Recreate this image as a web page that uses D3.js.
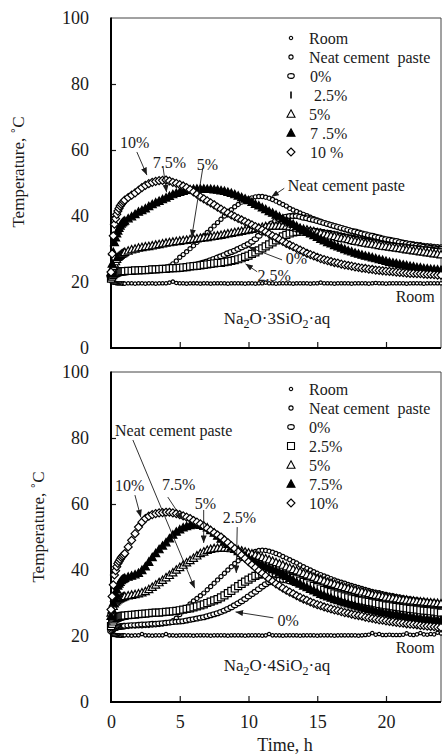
<!DOCTYPE html>
<html><head><meta charset="utf-8">
<script src="https://cdn.jsdelivr.net/npm/d3@7"></script>
<style>
body{margin:0;background:#fff}
text{font-family:"Liberation Serif","Times New Roman",Times,serif;fill:#1a1a1a}
</style></head>
<body><svg id="chart" width="442" height="756"></svg>
<script>
// ---------- DATA ----------
// sampling times, h (5-min logging in the first hour, 15-min afterwards)
const hours = [0,0.083,0.167,0.25,0.333,0.417,0.5,0.583,0.667,0.75,0.833,0.917,1,1.25,1.5,1.75,2,2.25,2.5,2.75,3,3.25,3.5,3.75,4,4.25,4.5,4.75,5,5.25,5.5,5.75,6,6.25,6.5,6.75,7,7.25,7.5,7.75,8,8.25,8.5,8.75,9,9.25,9.5,9.75,10,10.25,10.5,10.75,11,11.25,11.5,11.75,12,12.25,12.5,12.75,13,13.25,13.5,13.75,14,14.25,14.5,14.75,15,15.25,15.5,15.75,16,16.25,16.5,16.75,17,17.25,17.5,17.75,18,18.25,18.5,18.75,19,19.25,19.5,19.75,20,20.25,20.5,20.75,21,21.25,21.5,21.75,22,22.25,22.5,22.75,23,23.25,23.5,23.75,24];

const seriesNames = ["Room","Neat cement  paste","0%","2.5%","5%","7.5%","10%"];
const xTicks = [0,5,10,15,20];
const yTicks = [0,20,40,60,80,100];

// Panel 1: Na2O·3SiO2·aq
const room3 = [20.2,20.0,19.8,19.8,19.7,19.6,19.6,19.6,19.6,19.6,19.5,19.6, 19.5,19.6,19.6,19.5, 19.6,19.6,19.5,19.6, 19.6,19.5,19.6,19.6, 19.6,19.8,20.1,19.7, 19.6,19.6,19.5,19.6, 19.6,19.6,19.5,19.6, 19.6,19.5,19.6,19.6, 19.6,19.6,19.5,19.6, 19.6,19.6,19.6,19.5, 19.6,19.6,19.5,19.6, 19.6,19.8,19.6,19.6, 19.5,19.6,19.6,19.6, 19.6,19.5,19.6,19.6, 19.6,19.6,19.5,19.6, 19.6,19.8,19.6,19.6, 19.6,19.5,19.6,19.6, 19.6,19.6,19.5,19.6, 19.6,19.6,19.6,19.5, 19.6,19.7,19.6,19.6, 19.5,19.6,19.6,19.6, 19.6,19.6,19.5,19.6, 19.6,19.6,19.6,19.5, 19.6,19.6,19.6,19.6, 19.6];
const neat3 = [21.5,21.9,22.2,22.5,22.7,22.9,23.0,23.1,23.1,23.2,23.2,23.3, 23.3,23.4,23.4,23.5, 23.5,23.5,23.6,23.6, 23.7,23.8,23.9,24.1, 24.4,24.8,25.5,26.4, 27.5,28.3,29.2,30.1, 31.0,32.0,33.0,34.0, 35.0,36.0,37.0,38.0, 39.0,40.0,41.0,41.9, 42.8,43.5,44.2,44.7, 45.2,45.5,45.8,45.9, 45.9,45.7,45.4,45.0, 44.5,44.0,43.5,43.0, 42.3,41.8,41.4,40.9, 40.5,40.1,39.6,39.2, 38.8,38.4,38.0,37.5, 37.1,36.8,36.5,36.1, 35.8,35.5,35.2,34.9, 34.6,34.3,34.1,33.8, 33.6,33.4,33.2,33.0, 32.8,32.6,32.4,32.3, 32.1,32.0,31.8,31.7, 31.5,31.4,31.3,31.1, 31.0,30.9,30.8,30.7, 30.6];
const p0_3 = [21.0,21.4,21.7,22.0,22.2,22.4,22.5,22.6,22.7,22.8,22.9,23.0, 23.0,23.1,23.1,23.2, 23.3,23.3,23.4,23.4, 23.5,23.6,23.6,23.7, 23.8,23.9,24.0,24.1, 24.3,24.4,24.6,24.8, 25.0,25.3,25.6,25.9, 26.2,26.6,27.0,27.4, 27.8,28.2,28.7,29.1, 29.5,30.0,30.5,31.0, 31.5,32.2,33.0,34.0, 35.0,36.0,37.0,37.8, 38.5,39.0,39.5,39.8, 40.0,40.0,40.0,39.8, 39.5,39.3,39.0,38.8, 38.5,38.2,37.9,37.6, 37.3,37.0,36.7,36.4, 36.1,35.8,35.5,35.3, 35.0,34.7,34.5,34.2, 34.0,33.7,33.5,33.2, 33.0,32.8,32.6,32.4, 32.1,31.9,31.7,31.5, 31.3,31.1,30.9,30.7, 30.5,30.4,30.2,30.1, 30.0];
const p25_3 = [21.0,21.6,22.1,22.5,22.7,22.9,23.0,23.1,23.1,23.2,23.2,23.3, 23.3,23.4,23.4,23.5, 23.5,23.6,23.6,23.7, 23.8,23.8,23.9,24.0, 24.0,24.1,24.2,24.2, 24.3,24.4,24.5,24.7, 24.8,24.9,25.0,25.2, 25.3,25.5,25.6,25.8, 25.8,26.0,26.2,26.4, 26.6,26.9,27.2,27.6, 28.0,28.5,29.0,29.6, 30.2,30.8,31.4,32.0, 32.6,33.2,33.8,34.3, 34.7,35.0,35.2,35.3, 35.3,35.3,35.2,35.1, 35.0,34.8,34.6,34.5, 34.3,34.1,33.8,33.6, 33.4,33.2,33.0,32.7, 32.5,32.3,32.1,31.9, 31.8,31.6,31.4,31.2, 31.0,30.9,30.7,30.6, 30.5,30.4,30.2,30.1, 30.0,29.9,29.7,29.6, 29.5,29.4,29.2,29.1, 29.0];
const p5_3 = [23.0,23.9,24.8,25.5,26.2,26.9,27.5,27.8,28.1,28.4,28.6,28.8, 29.0,29.4,29.8,30.0, 30.3,30.5,30.7,30.8, 31.0,31.2,31.4,31.6, 31.8,32.0,32.1,32.3, 32.4,32.6,32.7,32.9, 33.0,33.1,33.3,33.4, 33.5,33.7,33.9,34.0, 34.2,34.4,34.6,34.8, 35.0,35.2,35.4,35.6, 35.8,36.0,36.2,36.4, 36.6,36.8,36.9,37.0, 37.0,37.0,37.0,36.9, 36.8,36.6,36.4,36.2, 36.0,35.8,35.5,35.3, 35.0,34.8,34.5,34.3, 34.0,33.8,33.5,33.3, 33.1,32.9,32.6,32.4, 32.2,32.0,31.8,31.6, 31.5,31.3,31.1,30.9, 30.8,30.6,30.5,30.3, 30.2,30.0,29.8,29.7, 29.5,29.4,29.2,29.1, 28.9,28.8,28.6,28.5, 28.3];
const p75_3 = [22.6,25.5,29.0,32.0,33.4,34.6,35.5,36.3,37.0,37.6,38.0,38.3, 38.5,39.2,39.8,40.5, 41.2,41.7,42.2,42.9, 43.5,44.0,44.5,45.0, 45.5,46.0,46.5,46.9, 47.2,47.5,47.8,48.0, 48.1,48.2,48.2,48.2, 48.1,48.1,48.0,47.9, 47.7,47.5,47.2,46.9, 46.5,46.1,45.6,45.2, 44.7,44.2,43.6,43.1, 42.5,42.0,41.4,40.9, 40.3,39.8,39.2,38.6, 38.0,37.5,36.9,36.2, 35.6,35.1,34.6,34.1, 33.6,33.0,32.5,32.0, 31.6,31.1,30.7,30.3, 29.9,29.5,29.2,28.8, 28.5,28.2,27.9,27.7, 27.4,27.1,26.8,26.6, 26.3,26.0,25.8,25.6, 25.4,25.2,25.0,24.8, 24.6,24.4,24.3,24.1, 24.0,23.9,23.8,23.7, 23.6];
const p10_3 = [23.0,28.5,34.0,37.5,39.2,40.5,41.5,42.3,43.0,43.5,44.0,44.4, 44.8,45.6,46.3,47.0, 47.8,48.6,49.3,49.8, 50.2,50.5,50.7,50.8, 50.9,50.6,50.2,49.9, 49.5,49.1,48.6,48.0, 47.3,46.6,45.8,45.2, 44.6,44.0,43.4,42.7, 42.1,41.5,40.9,40.3, 39.8,39.3,38.8,38.3, 37.8,37.3,36.8,36.3, 35.8,35.2,34.6,34.0, 33.5,32.9,32.3,31.7, 31.2,30.7,30.2,29.7, 29.2,28.7,28.3,27.9, 27.5,27.1,26.8,26.5, 26.2,25.9,25.7,25.4, 25.2,25.0,24.8,24.6, 24.4,24.2,24.1,23.9, 23.8,23.6,23.5,23.4, 23.3,23.2,23.1,23.0, 22.9,22.8,22.7,22.6, 22.6,22.5,22.5,22.4, 22.3,22.3,22.2,22.1, 22.1];

// Panel 2: Na2O·4SiO2·aq
const room4 = [21.0,20.7,20.5,20.4,20.3,20.2,20.2,20.2,20.1,20.1,20.2,20.2, 20.2,20.2,20.1,20.2, 20.2,20.6,20.2,20.2, 20.1,20.2,20.2,20.2, 20.6,20.2,20.2,20.1, 20.2,20.2,20.2,20.2, 20.1,20.2,20.2,20.2, 20.2,20.1,20.2,20.2, 20.2,20.2,20.1,20.2, 20.2,20.2,20.2,20.1, 20.2,20.2,20.2,20.2, 20.1,20.2,20.6,20.2, 20.2,20.2,20.1,20.2, 20.2,20.2,20.2,20.1, 20.2,20.2,20.2,20.2, 20.1,20.2,20.2,20.2, 20.2,20.1,20.2,20.2, 20.2,20.2,20.2,20.2, 20.1,20.2,20.3,20.4, 20.9,20.4,20.6,20.3, 20.3,20.4,20.3,20.3, 20.3,20.4,20.8,20.4, 20.3,20.5,20.9,20.5, 20.4,20.6,20.5,21.0, 20.8];
const neat4 = [22.0,22.1,22.2,22.3,22.4,22.5,22.5,22.6,22.6,22.7,22.7,22.8, 22.8,22.9,23.0,23.0, 23.1,23.1,23.2,23.2, 23.3,23.4,23.5,23.6, 23.8,24.1,24.6,25.4, 26.5,27.6,28.7,29.7, 30.6,31.4,32.2,33.0, 34.0,35.0,36.0,37.0, 38.0,39.0,40.0,41.0, 42.0,42.8,43.5,44.1, 44.7,45.2,45.6,45.9, 46.0,45.9,45.7,45.4, 45.0,44.6,44.1,43.6, 43.1,42.6,42.1,41.5, 41.0,40.5,40.0,39.5, 39.0,38.6,38.2,37.8, 37.4,37.0,36.6,36.3, 36.0,35.6,35.3,35.0, 34.7,34.4,34.1,33.8, 33.5,33.3,33.1,32.8, 32.6,32.4,32.2,32.0, 31.8,31.6,31.4,31.3, 31.1,31.0,30.8,30.7, 30.5,30.4,30.3,30.1, 30.0];
const p0_4 = [21.5,21.8,22.1,22.3,22.5,22.6,22.7,22.8,22.9,23.0,23.0,23.1, 23.1,23.2,23.3,23.3, 23.4,23.5,23.5,23.6, 23.7,23.7,23.8,23.9, 24.0,24.1,24.2,24.3, 24.4,24.5,24.7,24.9, 25.1,25.3,25.5,25.7, 26.0,26.3,26.6,26.9, 27.3,27.7,28.2,28.7, 29.3,29.9,30.5,31.2, 32.0,32.7,33.4,34.2, 35.0,35.7,36.3,36.7, 37.0,37.1,37.0,36.8, 36.5,36.2,35.8,35.5, 35.1,34.8,34.5,34.1, 33.8,33.5,33.2,32.9, 32.6,32.4,32.1,31.9, 31.7,31.4,31.2,31.0, 30.8,30.6,30.4,30.2, 30.0,29.9,29.7,29.6, 29.4,29.3,29.2,29.0, 28.9,28.8,28.7,28.6, 28.5,28.4,28.4,28.3, 28.2,28.1,28.1,28.0, 27.9];
const p25_4 = [23.0,23.7,24.4,25.0,25.3,25.5,25.6,25.8,25.9,26.0,26.1,26.1, 26.2,26.3,26.4,26.5, 26.6,26.7,26.8,26.9, 27.0,27.1,27.1,27.2, 27.3,27.4,27.5,27.6, 27.8,28.0,28.2,28.4, 28.7,29.0,29.3,29.6, 30.0,30.4,30.8,31.2, 31.7,32.3,33.0,33.7, 34.4,35.1,35.8,36.5, 37.1,37.7,38.2,38.6, 38.8,39.0,39.1,39.1, 39.0,38.8,38.6,38.3, 38.0,37.6,37.2,36.8, 36.4,36.0,35.6,35.2, 34.8,34.4,34.0,33.6, 33.3,32.9,32.6,32.3, 32.0,31.7,31.4,31.2, 30.9,30.7,30.5,30.3, 30.1,29.9,29.7,29.5, 29.3,29.2,29.0,28.8, 28.7,28.5,28.4,28.2, 28.1,28.0,27.8,27.7, 27.6,27.5,27.4,27.2, 27.1];
const p5_4 = [27.0,28.0,29.0,29.8,30.3,30.7,31.0,31.2,31.4,31.6,31.7,31.9, 32.0,32.2,32.4,32.6, 32.8,33.1,33.5,34.1, 34.8,35.5,36.2,36.9, 37.7,38.4,39.2,40.0, 40.8,41.5,42.2,42.9, 43.6,44.3,45.0,45.5, 46.0,46.3,46.5,46.6, 46.7,46.7,46.6,46.5, 46.3,46.1,45.8,45.5, 45.2,44.9,44.5,44.2, 43.8,43.4,43.1,42.7, 42.3,41.9,41.5,41.0, 40.6,40.2,39.8,39.4, 39.0,38.6,38.2,37.8, 37.4,37.1,36.7,36.3, 36.0,35.7,35.3,35.0, 34.7,34.4,34.2,33.9, 33.6,33.4,33.1,32.9, 32.6,32.4,32.2,32.0, 31.8,31.6,31.5,31.3, 31.1,31.0,30.9,30.7, 30.6,30.5,30.4,30.3, 30.2,30.1,30.0,29.9, 29.8];
const p75_4 = [26.0,28.0,30.0,31.5,32.8,34.0,35.2,35.8,36.3,36.8,37.1,37.3, 37.5,37.9,38.2,38.6, 39.0,39.9,41.0,42.4, 43.8,45.0,46.2,47.3, 48.3,49.5,50.6,51.5, 52.2,52.8,53.2,53.5, 53.7,53.7,53.6,53.3, 52.8,52.0,51.2,50.3, 49.4,48.6,47.8,47.0, 46.3,45.6,45.0,44.3, 43.6,43.1,42.5,42.0, 41.5,41.1,40.6,40.2, 39.8,39.2,38.7,38.1, 37.5,36.9,36.3,35.8, 35.2,34.7,34.2,33.7, 33.2,32.7,32.3,31.9, 31.5,31.1,30.8,30.4, 30.1,29.8,29.5,29.2, 28.9,28.6,28.4,28.1, 27.9,27.6,27.4,27.2, 27.0,26.8,26.6,26.5, 26.3,26.1,25.9,25.8, 25.6,25.5,25.3,25.2, 25.1,25.0,24.9,24.8, 24.7];
const p10_4 = [28.0,32.0,35.5,38.5,39.8,41.0,42.0,42.6,43.2,43.8,44.2,44.6, 45.0,47.0,49.0,51.0, 53.0,54.5,55.6,56.3, 56.8,57.1,57.3,57.4, 57.5,57.5,57.3,57.1, 56.8,56.4,56.0,55.6, 55.0,54.5,54.0,53.3, 52.6,52.0,51.3,50.6, 50.0,49.1,48.3,47.4, 46.5,45.5,44.5,43.5, 42.5,41.6,40.7,39.8, 39.0,38.2,37.3,36.6, 35.8,35.2,34.5,33.9, 33.3,32.8,32.2,31.7, 31.2,30.8,30.3,29.9, 29.5,29.2,28.8,28.5, 28.2,27.9,27.7,27.4, 27.1,26.9,26.6,26.4, 26.2,26.0,25.7,25.5, 25.3,25.1,24.9,24.8, 24.6,24.4,24.3,24.1, 24.0,23.9,23.7,23.6, 23.5,23.4,23.2,23.1, 23.0,22.9,22.8,22.7, 22.6];

// ---------- DRAWING ----------
const svg = d3.select("#chart");
const X0 = 111, X1 = 441;
const x = d3.scaleLinear().domain([0, 24]).range([X0, X1]);

const defs = svg.append("defs");
defs.append("marker").attr("id","ah").attr("viewBox","0 0 10 8").attr("refX",10).attr("refY",4)
  .attr("markerUnits","userSpaceOnUse").attr("markerWidth",8).attr("markerHeight",6).attr("orient","auto")
  .append("path").attr("d","M0,0L10,4L0,8z").attr("fill","#1a1a1a");

const shapes = {
  room:  () => "M-1.7,0a1.7,1.7 0 1,0 3.4,0a1.7,1.7 0 1,0 -3.4,0",
  neat:  () => "M-2.1,0a2.1,2.1 0 1,0 4.2,0a2.1,2.1 0 1,0 -4.2,0",
  circ:  () => "M-3.2,-0.5C-3.2,-3 3.2,-3 3.2,-0.5V0.5C3.2,3 -3.2,3 -3.2,0.5Z",
  square:() => "M-3.5,-3.5H3.5V3.5H-3.5Z",
  bar:   () => "M0,-3.5V3.5",
  tri:   () => "M0,-4.2L4,3.2H-4Z",
  diam:  () => "M0,-4L4,0L0,4L-4,0Z"
};

function drawPanel(cfg) {
  const y = d3.scaleLinear().domain([0, 100]).range([cfg.top + 330, cfg.top]);
  const g = svg.append("g");

  g.append("line").attr("x1",X0).attr("x2",X1).attr("y1",y(100)).attr("y2",y(100)).attr("stroke","#444").attr("stroke-width",1);
  g.append("line").attr("x1",X1).attr("x2",X1).attr("y1",y(100)).attr("y2",y(0)).attr("stroke","#444").attr("stroke-width",1);

  const ya = g.append("g").attr("transform",`translate(${X0},0)`)
    .call(d3.axisLeft(y).tickValues(yTicks).tickSize(-5).tickPadding(22).tickFormat(d3.format("d")));
  ya.select(".domain").remove();
  ya.selectAll(".tick line").attr("stroke","#1a1a1a").attr("stroke-width",1.2)
    .filter(d => d === 0 || d === 100).remove();
  ya.selectAll("text").style("font-family",'"Liberation Serif",serif').style("font-size","18px").attr("fill","#1a1a1a");

  const xa = g.append("g").attr("transform",`translate(0,${y(0)})`)
    .call(d3.axisBottom(x).tickValues(xTicks).tickSize(-6).tickPadding(13)
      .tickFormat(cfg.xLabels ? d3.format("d") : () => ""));
  xa.select(".domain").remove();
  xa.selectAll(".tick line").attr("stroke","#1a1a1a").attr("stroke-width",1.2).filter(d => d === 0).remove();
  xa.selectAll("text").style("font-family",'"Liberation Serif",serif').style("font-size","18px").attr("fill","#1a1a1a");

  g.append("line").attr("x1",X0).attr("x2",X0).attr("y1",y(100)-0.5).attr("y2",y(0)+1).attr("stroke","#000").attr("stroke-width",2);
  g.append("line").attr("x1",X0-1).attr("x2",X1).attr("y1",y(0)).attr("y2",y(0)).attr("stroke","#000").attr("stroke-width",2);

  cfg.series.forEach(s => {
    g.append("g").selectAll("path").data(s.values).join("path")
      .attr("transform",(v,i) => `translate(${x(hours[i])},${y(v)})`)
      .attr("d", shapes[s.shape]())
      .attr("fill", s.filled ? "#000" : "#fff")
      .attr("stroke","#000").attr("stroke-width", 1.2);
  });

  cfg.series.forEach((s, i) => {
    const ly = cfg.top + cfg.legTop + i * 19;
    g.append("path").attr("transform",`translate(291,${ly})`)
      .attr("d", shapes[s.legShape || s.shape]())
      .attr("fill", s.filled ? "#000" : "#fff").attr("stroke","#000")
      .attr("stroke-width", s.legShape === "bar" ? 1.6 : 1.1);
    g.append("text").attr("x", 309 + (s.legDx || 0)).attr("y", ly).attr("dy","0.35em")
      .style("font-size","16px").style("white-space","pre").text(s.legLabel);
  });

  cfg.notes.forEach(n => {
    g.append("text").attr("x", x(n.t)).attr("y", y(n.v)).attr("dy","0.35em")
      .attr("text-anchor", n.anchor || "start").style("font-size","16px").text(n.text);
    if (n.arrow) {
      g.append("line").attr("x1",x(n.arrow[0])).attr("y1",y(n.arrow[1]))
        .attr("x2",x(n.arrow[2])).attr("y2",y(n.arrow[3]))
        .attr("stroke","#1a1a1a").attr("stroke-width",0.9).attr("marker-end","url(#ah)");
    }
  });

  const f = g.append("text").attr("x", x(cfg.formula.t)).attr("y", y(cfg.formula.v)).attr("dy","0.35em")
    .style("font-size","17px");
  f.append("tspan").text("Na");
  f.append("tspan").attr("dy",4).style("font-size","12px").text("2");
  f.append("tspan").attr("dy",-4).text("O·" + cfg.formula.n + "SiO");
  f.append("tspan").attr("dy",4).style("font-size","12px").text("2");
  f.append("tspan").attr("dy",-4).text("·aq");

  g.append("text").attr("transform",`translate(${cfg.titleX},${cfg.titleY}) rotate(-90)`)
    .attr("text-anchor","middle").attr("dy","0.35em").style("font-size","17px").text("Temperature, \u02DAC");
}

drawPanel({
  top: 18, xLabels: false, legTop: 20, titleX: 18, titleY: 172,
  formula: {t: 8.2, v: 9.1, n: "3"},
  series: [
    {values: room3, shape: "room", legLabel: seriesNames[0]},
    {values: neat3, shape: "neat", legLabel: seriesNames[1]},
    {values: p0_3, shape: "circ", legLabel: seriesNames[2], legDx: 1},
    {values: p25_3, shape: "square", legShape: "bar", legLabel: " " + seriesNames[3], legDx: 1},
    {values: p5_3, shape: "tri", legLabel: seriesNames[4]},
    {values: p75_3, shape: "tri", filled: true, legLabel: "7 .5%", legDx: 1},
    {values: p10_3, shape: "diam", legLabel: "10 %", legDx: 1}
  ],
  notes: [
    {text: "10%", t: 0.65, v: 62.3, arrow: [1.88, 59.4, 2.61, 52.4]},
    {text: "7.5%", t: 3.04, v: 56.1, arrow: [3.79, 54.6, 4.04, 47.2]},
    {text: "5%", t: 6.23, v: 55.6, arrow: [6.67, 54.4, 5.87, 33.6]},
    {text: "Neat cement paste", t: 12.85, v: 49.4, arrow: [12.6, 48.4, 11.67, 45.8]},
    {text: "0%", t: 12.7, v: 27.1, arrow: [12.44, 26.7, 10.0, 30.6]},
    {text: "2.5%", t: 10.65, v: 22.0, arrow: [10.63, 23.1, 9.78, 25.5]},
    {text: "Room", t: 23.55, v: 15.5, anchor: "end"}
  ]
});

drawPanel({
  top: 372, xLabels: true, legTop: 17, titleX: 38, titleY: 527,
  formula: {t: 8.2, v: 11.2, n: "4"},
  series: [
    {values: room4, shape: "room", legLabel: seriesNames[0]},
    {values: neat4, shape: "neat", legLabel: seriesNames[1]},
    {values: p0_4, shape: "circ", legLabel: seriesNames[2]},
    {values: p25_4, shape: "square", legLabel: seriesNames[3]},
    {values: p5_4, shape: "tri", legLabel: seriesNames[4]},
    {values: p75_4, shape: "tri", filled: true, legLabel: seriesNames[5]},
    {values: p10_4, shape: "diam", legLabel: seriesNames[6]}
  ],
  notes: [
    {text: "Neat cement paste", t: 0.29, v: 82.4, arrow: [1.59, 79.4, 6.09, 34.5]},
    {text: "10%", t: 0.29, v: 65.5, arrow: [1.74, 62.7, 2.17, 56.0]},
    {text: "7.5%", t: 3.7, v: 65.8, arrow: [4.13, 62.1, 5.22, 55.2]},
    {text: "5%", t: 6.09, v: 60.3, arrow: [6.74, 58.2, 6.74, 48.2]},
    {text: "2.5%", t: 8.12, v: 55.8, arrow: [9.18, 53.0, 9.11, 39.1]},
    {text: "0%", t: 12.1, v: 24.8, arrow: [11.81, 25.5, 9.06, 27.3]},
    {text: "Room", t: 23.55, v: 16.4, anchor: "end"}
  ]
});

svg.append("text").attr("x", 285).attr("y", 745).attr("dy","0.35em").attr("text-anchor","middle")
  .style("font-size","18px").text("Time, h");
</script></body></html>
